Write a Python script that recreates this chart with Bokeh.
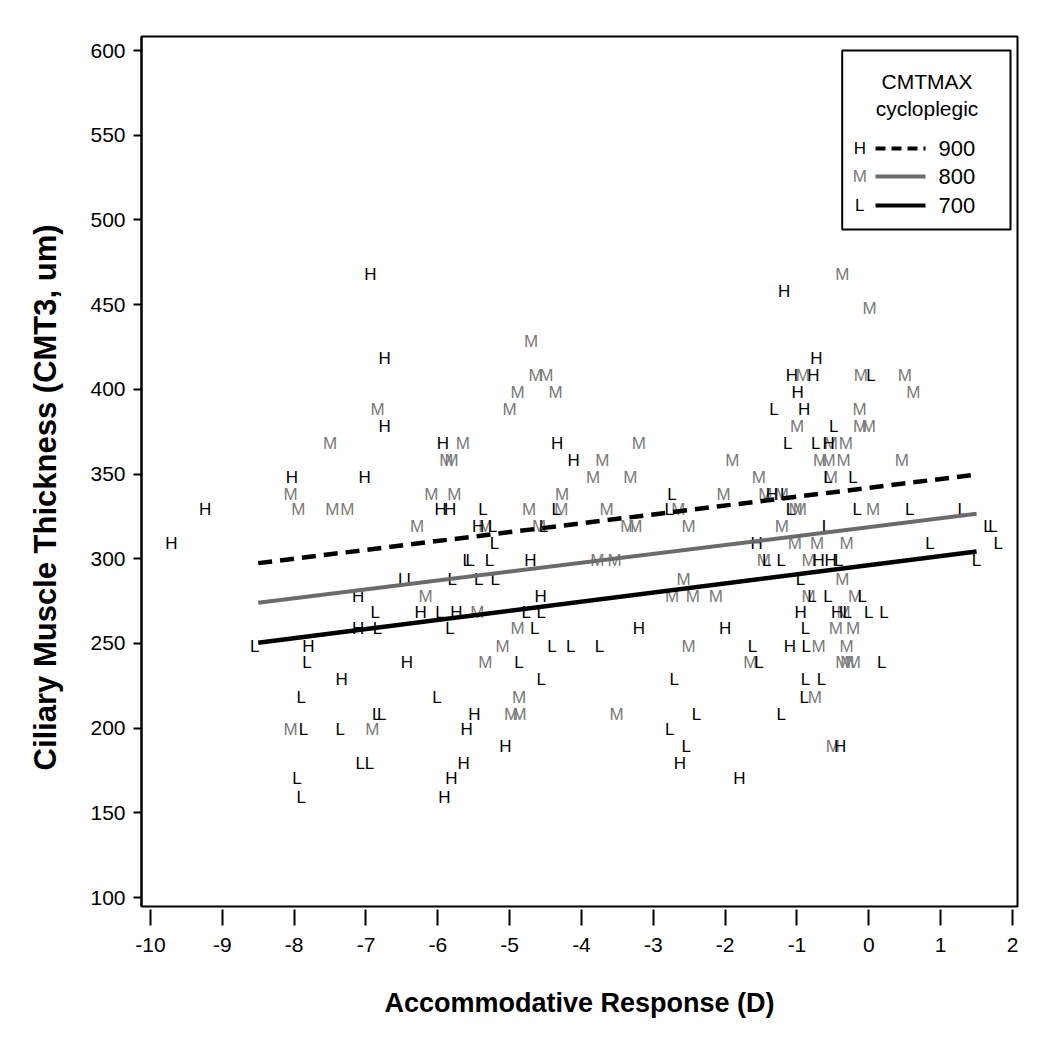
from bokeh.plotting import figure
from bokeh.models import Range1d, FixedTicker, Label, BoxAnnotation, Arrow, Title
from bokeh.embed import file_html
from bokeh.resources import INLINE
from bokeh.core.properties import value

# ---------------- data ----------------
h_x = [-6.94, -6.74, -6.74, -8.03, -7.02, -9.24, -9.71, -5.93, -5.96, -5.83,
       -7.11, -6.24, -7.11, -7.80, -6.43, -7.34, -4.34, -4.11, -5.44, -4.71,
       -4.57, -5.74, -3.20, -5.49, -5.60, -5.06, -5.64, -2.63, -5.81, -5.91,
       -1.18, -0.73, -1.07, -0.77, -0.99, -0.90, -0.56, -1.35, -1.56, -0.70,
       -0.53, -0.95, -0.44, -2.00, -1.10, -0.40, -1.80]
h_y = [468, 418, 378, 348, 348, 329, 309, 368, 329, 329,
       278, 268, 259, 248, 239, 229, 368, 358, 319, 299,
       278, 268, 259, 208, 199, 189, 179, 179, 170, 159,
       458, 418, 408, 408, 398, 388, 368, 338, 309, 299,
       299, 268, 268, 259, 248, 189, 170]

m_x = [-6.84, -7.50, -8.05, -7.94, -7.47, -7.26, -6.29, -6.09, -6.17, -8.05,
       -6.91, -4.70, -4.64, -4.49, -4.89, -4.36, -5.00, -5.65, -3.20, -5.88,
       -5.81, -3.71, -3.84, -3.32, -5.77, -4.27, -4.73, -4.28, -3.65, -2.65,
       -5.34, -4.59, -3.36, -3.25, -2.51, -3.78, -3.54, -2.58, -2.74, -2.45,
       -2.13, -5.45, -4.89, -5.10, -2.51, -5.34, -4.87, -4.98, -4.86, -3.51,
       -0.37, 0.01, -0.92, -0.11, 0.50, 0.62, -0.13, -1.00, -0.12, 0.00,
       -0.53, -0.32, -1.90, -0.68, -0.56, -0.35, 0.46, -1.53, -0.53, -2.02,
       -1.44, -1.21, -1.02, -0.96, 0.06, -1.21, -1.03, -0.72, -0.31, -1.46,
       -0.84, -0.37, -0.84, -0.19, -0.35, -0.46, -0.22, -0.70, -0.31, -1.65,
       -0.37, -0.30, -0.21, -0.75, -0.50]
m_y = [388, 368, 338, 329, 329, 329, 319, 338, 278, 199,
       199, 428, 408, 408, 398, 398, 388, 368, 368, 358,
       358, 358, 348, 348, 338, 338, 329, 329, 329, 329,
       319, 319, 319, 319, 319, 299, 299, 288, 278, 278,
       278, 268, 259, 248, 248, 239, 218, 208, 208, 208,
       468, 448, 408, 408, 408, 398, 388, 378, 378, 378,
       368, 368, 358, 358, 358, 358, 358, 348, 348, 338,
       338, 338, 329, 329, 329, 319, 309, 309, 309, 299,
       299, 288, 278, 278, 268, 259, 259, 248, 248, 239,
       239, 239, 239, 218, 189]

l_x = [-6.49, -6.37, -6.87, -6.84, -8.55, -7.82, -7.90, -6.01, -6.85, -6.78,
       -7.87, -7.36, -7.08, -6.95, -7.96, -7.90, -2.74, -5.37, -4.35, -2.78,
       -5.24, -4.53, -5.21, -5.59, -5.55, -5.28, -5.80, -5.43, -5.20, -5.97,
       -4.77, -4.56, -5.83, -4.65, -4.41, -4.15, -3.75, -4.87, -4.56, -2.71,
       -2.40, -2.77, -2.54,
       0.03, -1.32, -0.49, -1.13, -0.74, -0.57, -0.22, -1.17, -1.09, -0.16,
       0.57, 1.30, -0.59, 1.66, 1.73, 0.85, 1.80, -1.42, -1.22, -0.42,
       1.50, -0.95, -0.79, -0.57, -0.09, -0.30, 0.00, 0.21, -0.88, -1.62,
       -0.87, -1.53, 0.18, -0.88, -0.66, -0.90, -1.22]
l_y = [288, 288, 268, 259, 248, 239, 218, 218, 208, 208,
       199, 199, 179, 179, 170, 159, 338, 329, 329, 329,
       319, 319, 309, 299, 299, 299, 288, 288, 288, 268,
       268, 268, 259, 259, 248, 248, 248, 239, 229, 229,
       208, 199, 189,
       408, 388, 378, 368, 368, 348, 348, 338, 329, 329,
       329, 329, 319, 319, 319, 309, 309, 299, 299, 299,
       299, 288, 278, 278, 278, 268, 268, 268, 259, 248,
       248, 239, 239, 229, 229, 218, 208]

fit_x = [-8.5, 1.5]
fit_h = [297.4, 349.7]   # CMTMAX 900
fit_m = [274.0, 326.5]   # CMTMAX 800
fit_l = [250.4, 304.3]   # CMTMAX 700

x_ticks = list(range(-10, 3))
y_ticks = list(range(100, 601, 50))

legend_title = ["CMTMAX", "cycloplegic"]
legend_marks = ["H", "M", "L"]
legend_labels = ["900", "800", "700"]

# ---------------- styles ----------------
FONT = "Liberation Sans"
BLACK = "#000000"
GRAY_TXT = "#7a7a7a"
GRAY_LINE = "#6b6b6b"

p = figure(width=1040, height=1030,
           x_range=Range1d(-10.125, 2.07), y_range=Range1d(94.7, 608.3),
           output_backend="svg", toolbar_location=None,
           min_border_left=141, min_border_right=23,
           min_border_top=36, min_border_bottom=124)
p.grid.visible = False
p.background_fill_color = "white"
p.border_fill_color = "white"
p.outline_line_color = "black"
p.outline_line_width = 2

# axes
p.xaxis.ticker = FixedTicker(ticks=x_ticks)
p.yaxis.ticker = FixedTicker(ticks=y_ticks)
p.xaxis.major_label_overrides = {t: str(t) for t in x_ticks}
p.xaxis.minor_tick_line_color = None
p.yaxis.minor_tick_line_color = None
p.xaxis.axis_line_color = None
p.xaxis.major_tick_in = -3
p.xaxis.major_tick_out = 19
p.xaxis.major_tick_line_width = 2
p.xaxis.major_tick_line_color = "black"
p.xaxis.major_label_standoff = 12
p.yaxis.axis_line_color = "black"
p.yaxis.axis_line_width = 2
p.yaxis.major_tick_in = 0
p.yaxis.major_tick_out = 8
p.yaxis.major_tick_line_width = 2
p.yaxis.major_label_standoff = 8
for ax in (p.xaxis, p.yaxis):
    ax.major_label_text_font = FONT
    ax.major_label_text_font_size = "21px"
    ax.major_label_text_color = "black"
p.xaxis.axis_label = "Accommodative Response (D)"
p.xaxis.axis_label_text_font = FONT
p.xaxis.axis_label_text_font_style = "bold"
p.xaxis.axis_label_text_color = "black"
p.xaxis.axis_label_text_font_size = "27px"
p.xaxis.axis_label_standoff = 33

# y-axis title, placed a little below the frame centre as in the reference
ytitle = Title(text="Ciliary Muscle Thickness (CMT3, um)", align="left",
               offset=136, standoff=50, text_font=FONT, text_font_style="bold",
               text_font_size="31px", text_color="black")
p.add_layout(ytitle, "left")

# letters
common = dict(text_align="center", text_baseline="middle",
              text_font=value(FONT), text_font_size="17px")
p.text(x=m_x, y=m_y, text=["M"] * len(m_x), text_color=GRAY_TXT, **common)
p.text(x=h_x, y=h_y, text=["H"] * len(h_x), text_color=BLACK, **common)
p.text(x=l_x, y=l_y, text=["L"] * len(l_x), text_color=BLACK, **common)

# fitted lines
p.line(fit_x, fit_h, line_color=BLACK, line_width=4.5, line_dash="14 8")
p.line(fit_x, fit_m, line_color=GRAY_LINE, line_width=4)
p.line(fit_x, fit_l, line_color=BLACK, line_width=4.5)

# legend (screen units, relative to frame bottom-left)
box = BoxAnnotation(left=700.7, right=869, top=856, bottom=677,
                    left_units="screen", right_units="screen",
                    top_units="screen", bottom_units="screen",
                    fill_color="white", fill_alpha=1.0,
                    line_color="black", line_width=2, line_alpha=1.0)
p.add_layout(box)
for i, t in enumerate(legend_title):
    p.add_layout(Label(x=785.5, y=825 - 27 * i, x_units="screen", y_units="screen",
                       text=t, text_align="center", text_baseline="middle",
                       text_font=FONT, text_font_size="21px", text_color="black"))
row_y = [758, 730, 701]
mark_col = [BLACK, GRAY_TXT, BLACK]
line_col = [BLACK, GRAY_LINE, BLACK]
line_dash = ["10 6", "solid", "solid"]
for i in range(3):
    p.add_layout(Label(x=718.3, y=row_y[i], x_units="screen", y_units="screen",
                       text=legend_marks[i], text_align="center", text_baseline="middle",
                       text_font=FONT, text_font_size="17px", text_color=mark_col[i]))
    p.add_layout(Arrow(end=None, x_start=734, y_start=row_y[i], x_end=784, y_end=row_y[i],
                       start_units="screen", end_units="screen",
                       line_color=line_col[i], line_width=4, line_dash=line_dash[i]))
    p.add_layout(Label(x=797, y=row_y[i], x_units="screen", y_units="screen",
                       text=legend_labels[i], text_align="left", text_baseline="middle",
                       text_font=FONT, text_font_size="22px", text_color="black"))

open("out.html", "w").write(file_html(p, INLINE))
